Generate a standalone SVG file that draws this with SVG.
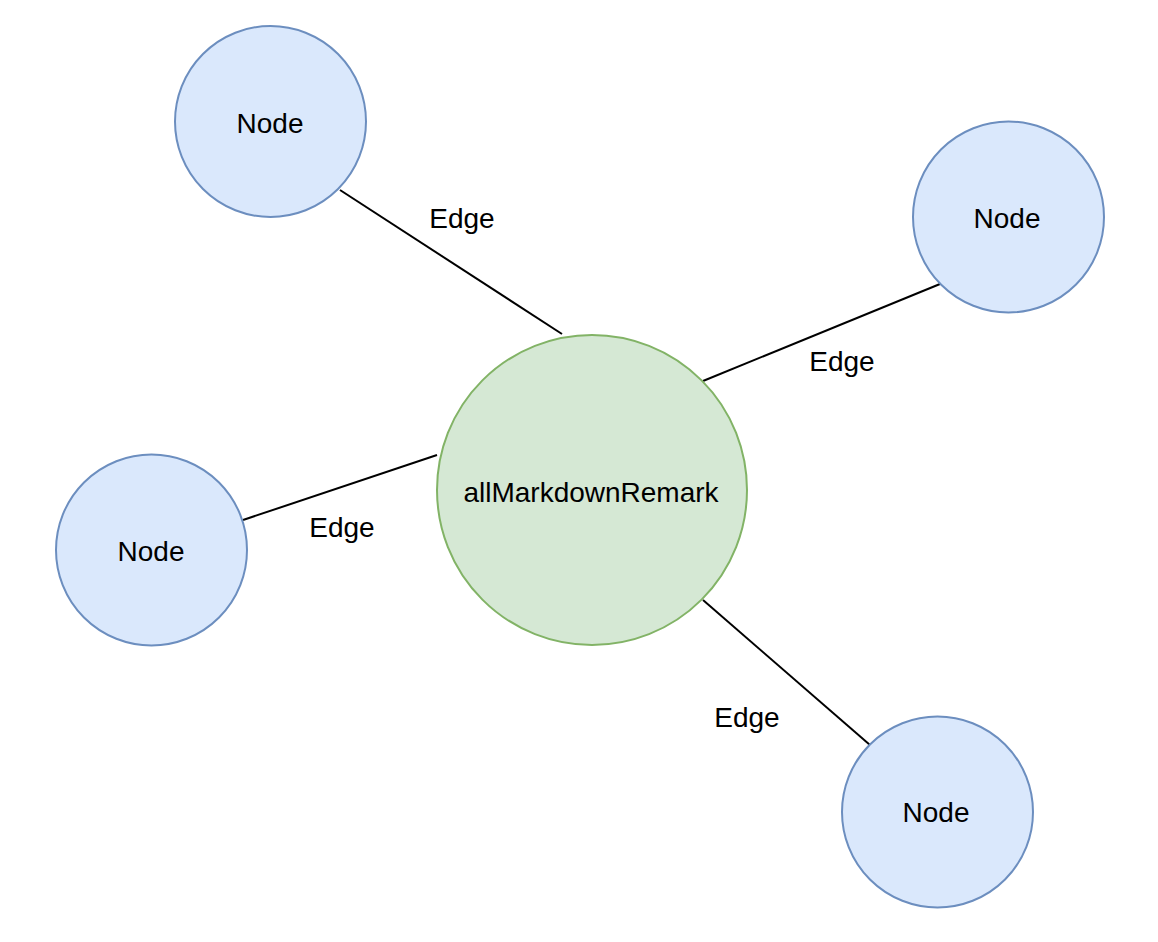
<svg xmlns="http://www.w3.org/2000/svg" width="1158" height="942" viewBox="0 0 1158 942">
<style>
.node{fill:#dae8fc;stroke:#6c8ebf;stroke-width:2}
.root{fill:#d5e8d4;stroke:#82b366;stroke-width:2}
.edge{stroke:#000;stroke-width:2;fill:none}
text{font-family:"Liberation Sans",Arial,Helvetica,sans-serif;font-size:28px;fill:#000;text-anchor:middle}
</style>
<rect width="1158" height="942" fill="#fff"/>
<g id="connectors">
<line class="edge" x1="340" y1="190" x2="562" y2="334"/>
<line class="edge" x1="940" y1="284" x2="703" y2="381"/>
<line class="edge" x1="243" y1="520" x2="437" y2="455"/>
<line class="edge" x1="703" y1="600" x2="870" y2="745"/>
<text x="462" y="228">Edge</text>
<text x="842" y="371">Edge</text>
<text x="342" y="537">Edge</text>
<text x="747" y="727">Edge</text>
</g>
<g id="center">
<circle class="root" cx="592" cy="490" r="155"/>
<text x="591" y="502">allMarkdownRemark</text>
</g>
<g id="node-top-left">
<circle class="node" cx="270.5" cy="121.5" r="95.5"/>
<text x="270" y="133">Node</text>
</g>
<g id="node-top-right">
<circle class="node" cx="1008.5" cy="217" r="95.5"/>
<text x="1007" y="228">Node</text>
</g>
<g id="node-left">
<circle class="node" cx="151.5" cy="550" r="95.5"/>
<text x="151" y="561">Node</text>
</g>
<g id="node-bottom-right">
<circle class="node" cx="937.5" cy="812" r="95.5"/>
<text x="936" y="822">Node</text>
</g>
</svg>
